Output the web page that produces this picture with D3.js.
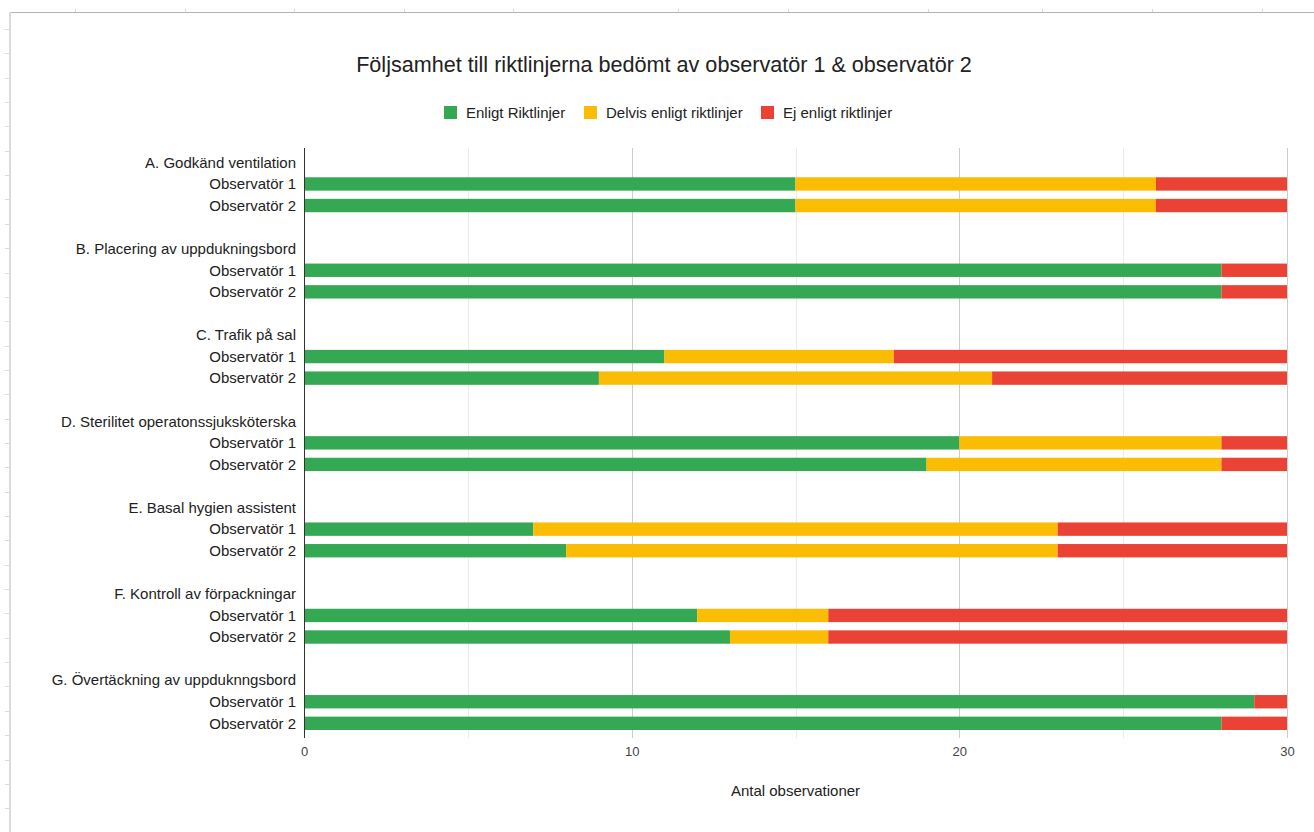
<!DOCTYPE html>
<html>
<head>
<meta charset="utf-8">
<script src="https://cdn.jsdelivr.net/npm/d3@7"></script>
<style>
  html, body { margin: 0; padding: 0; background: #fff; }
  svg { display: block; font-family: "Liberation Sans", Arial, sans-serif; }
</style>
</head>
<body>
<svg id="chart" width="1314" height="832"></svg>
<script>
// Criteria (group headings) and observers for each criterion
const groups = [
  "A. Godkänd ventilation",
  "B. Placering av uppdukningsbord",
  "C. Trafik på sal",
  "D. Sterilitet operatonssjuksköterska",
  "E. Basal hygien assistent",
  "F. Kontroll av förpackningar",
  "G. Övertäckning av uppduknngsbord"
];
const observers = ["Observatör 1", "Observatör 2"];

// Counts per row, in order A/Obs1, A/Obs2, B/Obs1, ...
const enligt = [15, 15, 28, 28, 11, 9, 20, 19, 7, 8, 12, 13, 29, 28];
const delvis = [11, 11, 0, 0, 7, 12, 8, 9, 16, 15, 4, 3, 0, 0];
const ej     = [4, 4, 2, 2, 12, 9, 2, 2, 7, 7, 14, 14, 1, 2];

const seriesNames = ["Enligt Riktlinjer", "Delvis enligt riktlinjer", "Ej enligt riktlinjer"];
const seriesColors = ["#34a853", "#fbbc04", "#ea4335"];
const xTicks = [0, 10, 20, 30];
const gridTicks = [5, 10, 15, 20, 25, 30];

const title = "Följsamhet till riktlinjerna bedömt av observatör 1 & observatör 2";
const xTitle = "Antal observationer";

// Build the row list: heading row, one row per observer, blank spacer row
const rows = [];
let k = 0;
groups.forEach((g, gi) => {
  rows.push({ id: "h" + gi, label: g, data: null });
  observers.forEach((o, oi) => {
    rows.push({ id: "r" + gi + "_" + oi, label: o,
      data: { enligt: enligt[k], delvis: delvis[k], ej: ej[k] } });
    k++;
  });
  if (gi < groups.length - 1) rows.push({ id: "s" + gi, label: "", data: null });
});

const svg = d3.select("#chart");

// Sheet frame behind the chart
const frame = svg.append("g");
frame.append("line").attr("x1", 10).attr("x2", 1314).attr("y1", 12.5).attr("y2", 12.5)
  .attr("stroke", "#b4b4b4").attr("stroke-width", 1);
frame.append("line").attr("x1", 10).attr("x2", 10).attr("y1", 12).attr("y2", 832)
  .attr("stroke", "#dcdcdc").attr("stroke-width", 2);
const colEdges = [75, 185, 294, 404, 513, 678, 788, 928, 1042, 1152, 1262];
frame.selectAll("line.col").data(colEdges).join("line").attr("class", "col")
  .attr("x1", d => d + 0.5).attr("x2", d => d + 0.5).attr("y1", 9).attr("y2", 12)
  .attr("stroke", "#d8d8d8");
const rowEdges = d3.range(0, 33).map(i => 29 + i * 24.35);
frame.selectAll("line.row").data(rowEdges).join("line").attr("class", "row")
  .attr("x1", 5).attr("x2", 9).attr("y1", d => Math.round(d) + 0.5).attr("y2", d => Math.round(d) + 0.5)
  .attr("stroke", "#dcdcdc");

// Scales
const x = d3.scaleLinear().domain([0, 30]).range([304, 1287]);
const y = d3.scaleBand().domain(rows.map(r => r.id)).range([151.6, 734.1])
  .paddingInner(0.38).paddingOuter(0.19);

// Gridlines
svg.append("g").selectAll("line").data(gridTicks).join("line")
  .attr("x1", d => Math.round(x(d)) + 0.5).attr("x2", d => Math.round(x(d)) + 0.5)
  .attr("y1", 148).attr("y2", 738)
  .attr("stroke", d => d % 10 === 0 ? "#cccccc" : "#ebebeb").attr("stroke-width", 1);

// Stacked bars
const keys = ["enligt", "delvis", "ej"];
const dataRows = rows.filter(r => r.data);
const stacked = d3.stack().keys(keys)(dataRows.map(r => Object.assign({ id: r.id }, r.data)));

svg.append("g").selectAll("g").data(stacked).join("g")
  .attr("fill", (d, i) => seriesColors[i])
  .selectAll("rect").data(d => d).join("rect")
  .attr("x", d => x(d[0]))
  .attr("width", d => x(d[1]) - x(d[0]))
  .attr("y", d => y(d.data.id))
  .attr("height", y.bandwidth());

// Baseline axis line
svg.append("line").attr("x1", 304.5).attr("x2", 304.5).attr("y1", 148).attr("y2", 738)
  .attr("stroke", "#333").attr("stroke-width", 1);

// Row labels
svg.append("g").selectAll("text").data(rows.filter(r => r.label)).join("text")
  .attr("x", 296).attr("y", r => y(r.id) + y.bandwidth() / 2 + 5.3)
  .attr("text-anchor", "end").attr("font-size", 15).attr("fill", "#222")
  .text(r => r.label);

// X axis tick labels
const xAxis = d3.axisBottom(x).tickValues(xTicks).tickSize(0).tickPadding(0).tickFormat(d3.format("d"));
const xg = svg.append("g").attr("transform", "translate(0,744)").call(xAxis);
xg.select(".domain").remove();
xg.selectAll("text").attr("font-size", 13).attr("fill", "#444")
  .attr("font-family", "Liberation Sans, Arial, sans-serif").attr("dy", "0.9em");

// X axis title
svg.append("text").attr("x", (x(0) + x(30)) / 2).attr("y", 796)
  .attr("text-anchor", "middle").attr("font-size", 15).attr("fill", "#222").text(xTitle);

// Title
svg.append("text").attr("x", 664).attr("y", 72).attr("text-anchor", "middle")
  .attr("font-size", 21.6).attr("fill", "#222").text(title);

// Legend
const legendX = [444, 584, 761];
const lg = svg.append("g").selectAll("g").data(seriesNames).join("g")
  .attr("transform", (d, i) => `translate(${legendX[i]},106)`);
lg.append("rect").attr("width", 13).attr("height", 13).attr("fill", (d, i) => seriesColors[i]);
lg.append("text").attr("x", 22).attr("y", 11.5).attr("font-size", 15).attr("fill", "#222").text(d => d);
</script>
</body>
</html>
